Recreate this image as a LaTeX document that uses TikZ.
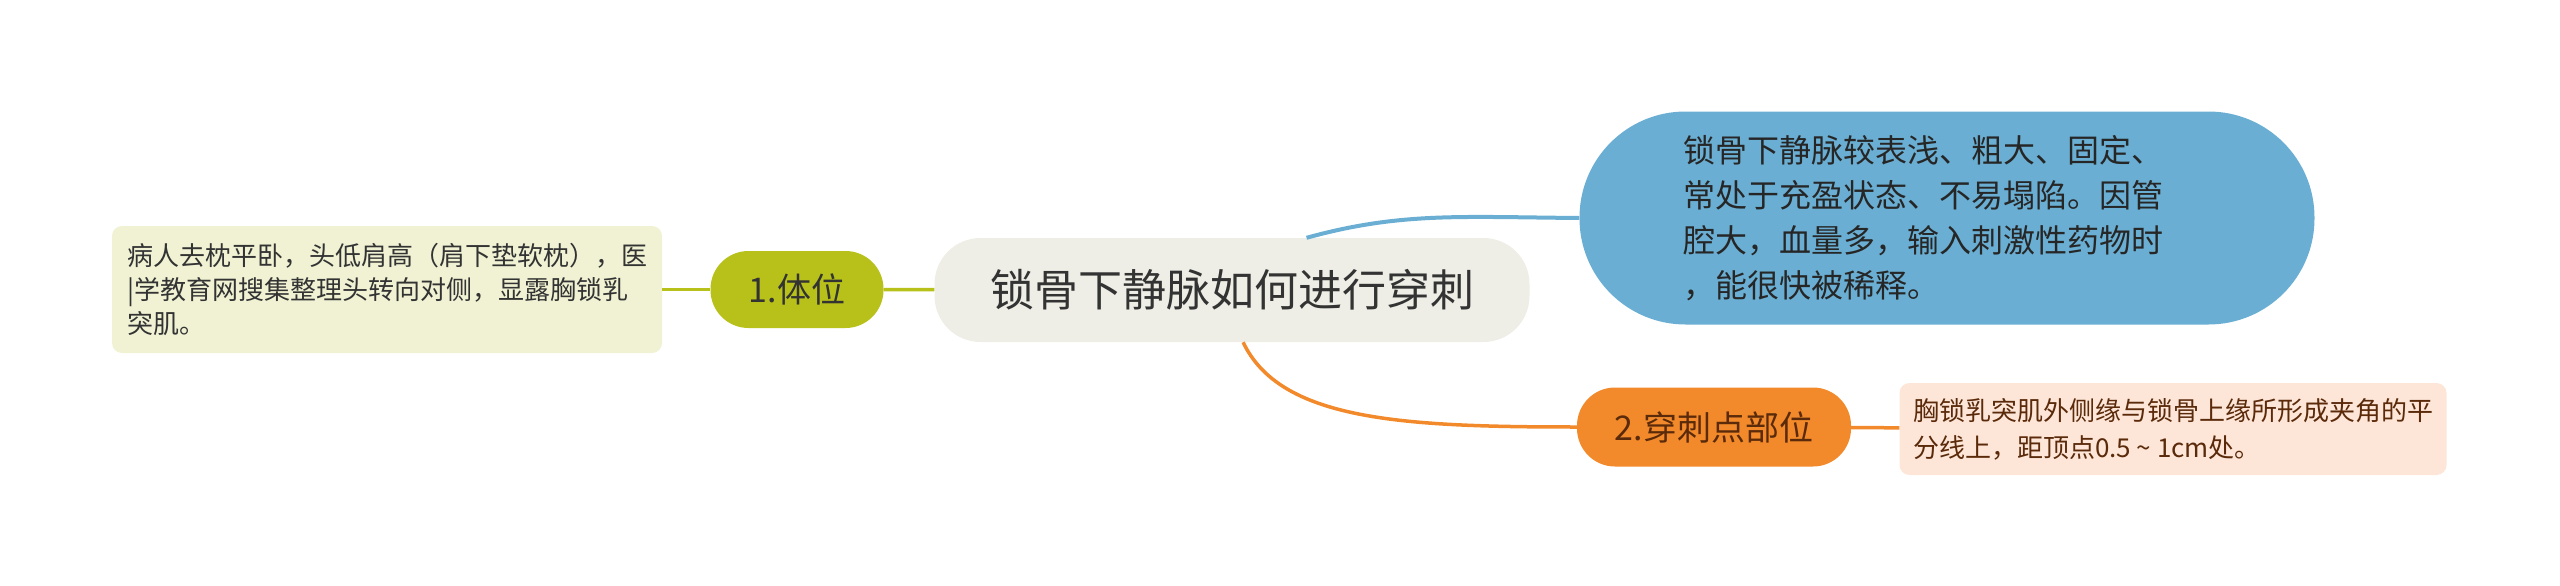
\documentclass[tikz,border=0pt]{standalone}
\usepackage{fontspec}
\newfontfamily\cjk{Noto Sans CJK SC}
\definecolor{olivetopic}{HTML}{B8C11A}
\definecolor{olivenote}{HTML}{F0F2D3}
\definecolor{rootgray}{HTML}{EEEEE6}
\definecolor{veinblue}{HTML}{6AAFD3}
\definecolor{siteorange}{HTML}{F28A2B}
\definecolor{sitenote}{HTML}{FDE6D8}
\definecolor{sitetext}{HTML}{5A2A0A}
\begin{document}
\begin{tikzpicture}[x=1pt,y=-1pt,
    every node/.style={inner sep=0pt, text=black!80},
    note/.style={rounded corners=10pt, align=left, font=\cjk\fontsize{26}{34}\selectfont},
    topic/.style={rounded corners=38pt, font=\cjk\fontsize{34}{40}\selectfont}]
    \useasboundingbox (0,0) rectangle (2560,586);

    \node[note, fill=olivenote, minimum width=550pt, minimum height=127pt] (posdesc) at (387,289.5) {病人去枕平卧，头低肩高（肩下垫软枕），医\\|学教育网搜集整理头转向对侧，显露胸锁乳\\突肌。};
    \node[topic, fill=olivetopic, minimum width=173pt, minimum height=77pt] (pos) at (797,289.5) {1.体位};
    \node[rounded corners=46pt, fill=rootgray, minimum width=595pt, minimum height=104pt, font=\cjk\fontsize{44}{50}\selectfont] (root) at (1232,290) {锁骨下静脉如何进行穿刺};
    \node[rounded corners=106pt, fill=veinblue, minimum width=735pt, minimum height=213pt, text width=528pt, align=left, text=black!85, font=\cjk\fontsize{32}{45}\selectfont] (vein) at (1947,218) {锁骨下静脉较表浅、粗大、固定、\\常处于充盈状态、不易塌陷。因管\\腔大，血量多，输入刺激性药物时\\，能很快被稀释。};
    \node[topic, fill=siteorange, minimum width=274pt, minimum height=79pt, text=sitetext] (site) at (1714,427) {2.穿刺点部位};
    \node[note, fill=sitenote, minimum width=547pt, minimum height=92pt, text=sitetext, font=\cjk\fontsize{26}{37}\selectfont] (sitedesc) at (2173,429) {胸锁乳突肌外侧缘与锁骨上缘所形成夹角的平\\分线上，距顶点0.5 \textasciitilde{} 1cm处。};

    \draw[olivetopic, line width=3.5pt] (posdesc) -- (pos);
    \draw[olivetopic, line width=3.5pt] (pos) -- (root);
    \draw[veinblue, line width=4pt] (root.35) .. controls (1400,212) and (1460,217) .. (vein.west);
    \draw[siteorange, line width=3.5pt] (root.-78) .. controls (1280,420) and (1400,427) .. (site.west);
    \draw[siteorange, line width=3.5pt] (site) -- (sitedesc);
\end{tikzpicture}
\end{document}
